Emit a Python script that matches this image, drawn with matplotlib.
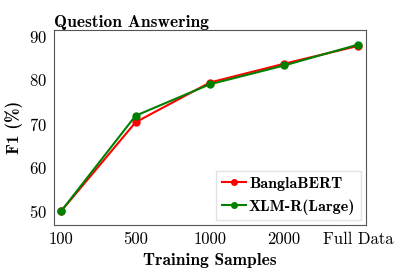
import matplotlib
matplotlib.use("Agg")
import matplotlib.pyplot as plt

plt.rcParams['font.family'] = 'serif'
plt.rcParams['font.serif'] = ['cmr10']
plt.rcParams['mathtext.fontset'] = 'cm'
plt.rcParams['axes.formatter.use_mathtext'] = True

samples = ['100', '500', '1000', '2000', 'Full Data']
bangla_bert = [50.0, 70.3, 79.4, 83.7, 87.8]
xlm_r_large = [50.0, 71.8, 79.0, 83.3, 88.1]

bold = 'cmb10'

fig, ax = plt.subplots(figsize=(3.99, 2.76), dpi=100)
x = range(len(samples))
ax.plot(x, bangla_bert, color='red', marker='o', markersize=5, lw=1.5,
        label='BanglaBERT')
ax.plot(x, xlm_r_large, color='green', marker='o', markersize=5, lw=1.5,
        label='XLM-R(Large)')

ax.set_xticks(list(x))
ax.set_xticklabels(samples, fontsize=12)
ax.set_yticks([50, 60, 70, 80, 90])
ax.tick_params(axis='y', labelsize=12)
ax.tick_params(length=0, pad=5)
ax.set_xlim(-0.1, 4.1)
ax.set_ylim(46.8, 91.4)
for s in ax.spines.values():
    s.set_color('#555555')

ax.set_title('Question Answering', fontsize=12.5, loc='left', pad=2, family=bold)
ax.set_xlabel('Training Samples', fontsize=12.5, family=bold)
ax.set_ylabel('F1 (%)', fontsize=12.5, family=bold)
leg = ax.legend(loc='lower right', fancybox=False, handlelength=1.5,
                borderpad=0.35, labelspacing=0.5, handletextpad=0.2,
                borderaxespad=0.3, markerscale=0.8,
                prop={'family': bold, 'size': 11.5})
leg.get_frame().set_edgecolor('#dddddd')

fig.subplots_adjust(left=0.135, right=0.917, top=0.891, bottom=0.185)
fig.savefig('out.png', dpi=100)
